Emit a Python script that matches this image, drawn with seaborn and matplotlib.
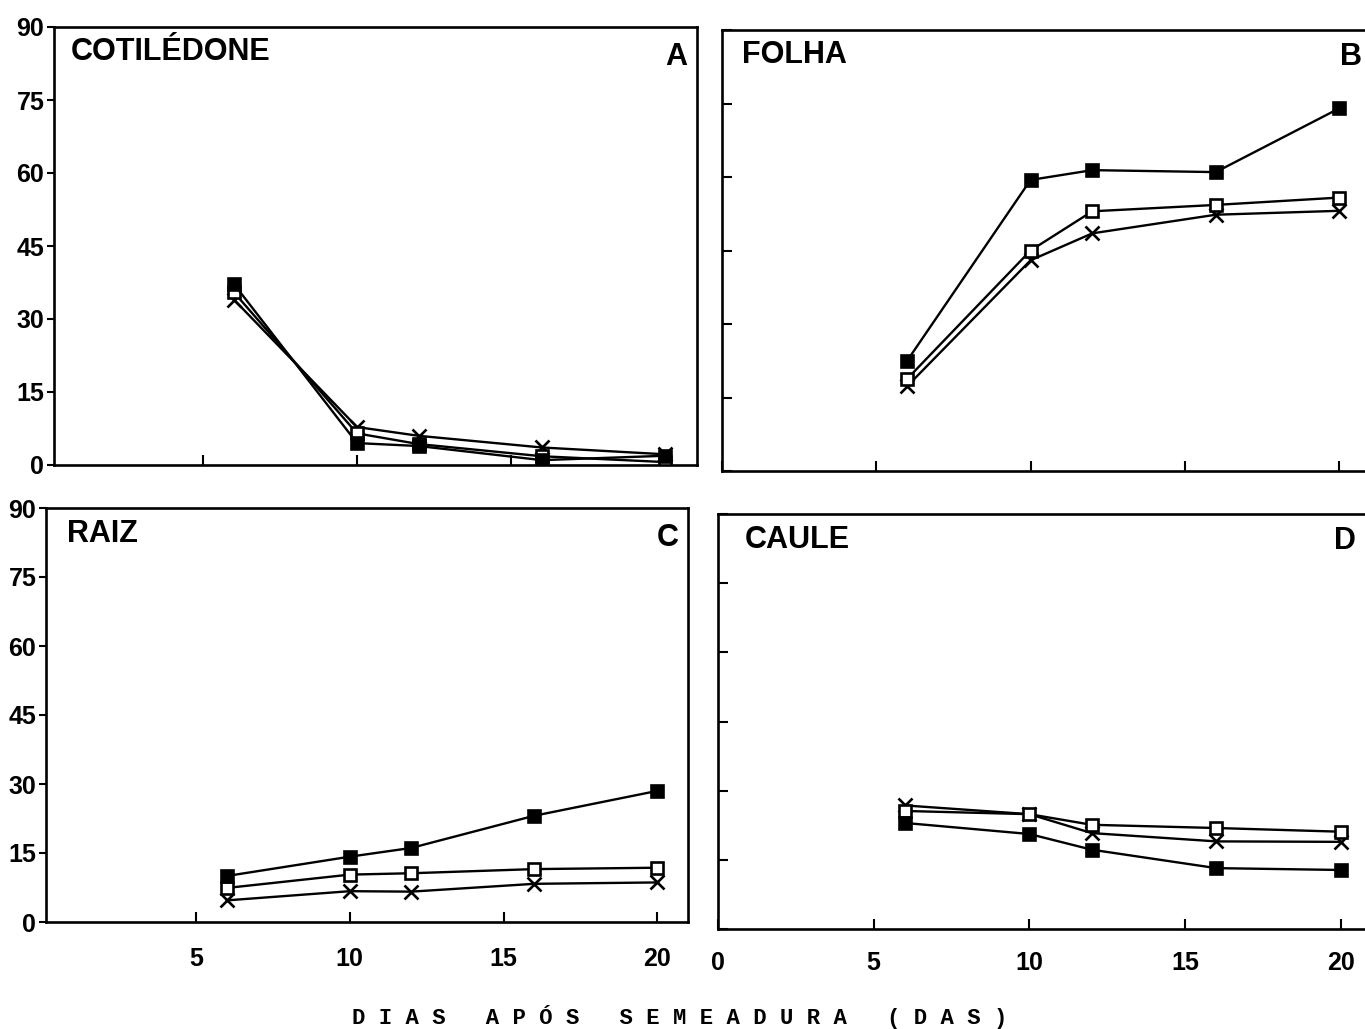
import matplotlib
matplotlib.use("Agg")
import matplotlib.pyplot as plt
import pandas as pd
import seaborn as sns

# days after sowing (x) and % of dry matter per organ (y)
dias = [6, 10, 12, 16, 20]

cotiledone_cheio = [37.2, 4.5, 3.9, 1.0, 1.9]
cotiledone_vazio = [35.5, 6.5, 4.3, 1.8, 0.6]
cotiledone_x = [34.0, 7.8, 6.0, 3.6, 2.2]

folha_cheio = [22.5, 59.4, 61.4, 61.0, 74.0]
folha_vazio = [18.8, 45.0, 53.0, 54.3, 55.8]
folha_x = [17.3, 43.0, 48.5, 52.3, 53.1]

raiz_cheio = [10.0, 14.2, 16.1, 23.1, 28.5]
raiz_vazio = [7.4, 10.3, 10.6, 11.5, 11.8]
raiz_x = [4.7, 6.7, 6.6, 8.3, 8.6]

caule_cheio = [23.0, 20.6, 17.2, 13.2, 12.8]
caule_vazio = [25.6, 24.9, 22.6, 21.9, 21.1]
caule_x = [26.8, 24.9, 20.8, 19.0, 18.9]

orgaos = ["COTILÉDONE", "FOLHA", "RAIZ", "CAULE"]
letras = ["A", "B", "C", "D"]
y_ticks = [0, 15, 30, 45, 60, 75, 90]
x_ticks = [0, 5, 10, 15, 20]
x_titulo = "D I A S   A P Ó S   S E M E A D U R A   ( D A S )"

series = {
    "COTILÉDONE": (cotiledone_x, cotiledone_vazio, cotiledone_cheio),
    "FOLHA": (folha_x, folha_vazio, folha_cheio),
    "RAIZ": (raiz_x, raiz_vazio, raiz_cheio),
    "CAULE": (caule_x, caule_vazio, caule_cheio),
}

sns.set_style("ticks")
plt.rcParams["font.family"] = ["Liberation Sans", "DejaVu Sans"]
plt.rcParams["font.weight"] = "bold"
plt.rcParams["text.color"] = "black"
plt.rcParams["xtick.color"] = "black"
plt.rcParams["ytick.color"] = "black"
plt.rcParams["axes.edgecolor"] = "black"

W, H = 1365, 1029
fig = plt.figure(figsize=(W / 100, H / 100), dpi=100)


def box(l, t, r, b):
    return [l / W, 1 - b / H, (r - l) / W, (b - t) / H]


def px(x, y):
    return x / W, 1 - y / H


layout = {
    "COTILÉDONE": dict(rect=box(54, 27, 697, 465), xlim=(0.16, 21.04), ylab=True, xlab=False,
                       name=(71, 52), let=(687, 57)),
    "FOLHA": dict(rect=box(722, 30, 1370, 471), xlim=(0.0, 21.0), ylab=False, xlab=False,
                  name=(742, 55), let=(1362, 57)),
    "RAIZ": dict(rect=box(46, 508, 688, 922), xlim=(0.12, 21.0), ylab=True, xlab=True,
                 name=(67, 534), let=(679, 538), pad=18),
    "CAULE": dict(rect=box(718, 514, 1372, 929), xlim=(0.0, 21.0), ylab=False, xlab=True,
                  name=(745, 540), let=(1356, 541), pad=16),
}

for orgao, letra in zip(orgaos, letras):
    cfg = layout[orgao]
    ax = fig.add_axes(cfg["rect"])
    vx, vvazio, vcheio = series[orgao]
    df = pd.DataFrame({"dias": dias, "x": vx, "vazio": vvazio, "cheio": vcheio})

    sns.lineplot(data=df, x="dias", y="x", ax=ax, color="black", lw=1.7,
                 marker="x", markersize=10, markeredgecolor="black",
                 markeredgewidth=1.9, errorbar=None)
    sns.lineplot(data=df, x="dias", y="vazio", ax=ax, color="black", lw=1.7,
                 marker="s", markersize=8, markerfacecolor="white",
                 markeredgecolor="black", markeredgewidth=1.9, errorbar=None)
    sns.lineplot(data=df, x="dias", y="cheio", ax=ax, color="black", lw=1.7,
                 marker="s", markersize=8, markerfacecolor="black",
                 markeredgecolor="black", markeredgewidth=1.9, errorbar=None)

    ax.set_xticks(x_ticks)
    ax.set_yticks(y_ticks)
    ax.set_xlim(*cfg["xlim"])
    ax.set_ylim(0, 90)
    ax.set_xlabel("")
    ax.set_ylabel("")
    for s in ax.spines.values():
        s.set_visible(True)
        s.set_linewidth(1.9)
        s.set_color("black")

    ax.tick_params(axis="x", direction="in", length=7, width=1.5, colors="black",
                   labelsize=18, pad=cfg.get("pad", 16), labelbottom=cfg["xlab"])
    if cfg["ylab"]:
        ax.tick_params(axis="y", direction="out", length=5, width=1.5, colors="black",
                       labelsize=18, pad=2)
    else:
        ax.tick_params(axis="y", direction="in", length=7, width=1.5, colors="black",
                       labelleft=False)
    for t in ax.get_xticklabels() + ax.get_yticklabels():
        t.set_fontweight("bold")

    fig.text(*px(*cfg["name"]), orgao, fontsize=22, fontweight="bold",
             color="black", ha="left", va="center")
    fig.text(*px(*cfg["let"]), letra, fontsize=22, fontweight="bold",
             color="black", ha="right", va="center")

fig.text(*px(680, 1017), x_titulo, fontsize=16, ha="center", va="center",
         color="black", family=["Liberation Mono", "DejaVu Sans Mono"],
         fontweight="bold")

fig.savefig("out.png", dpi=100)
